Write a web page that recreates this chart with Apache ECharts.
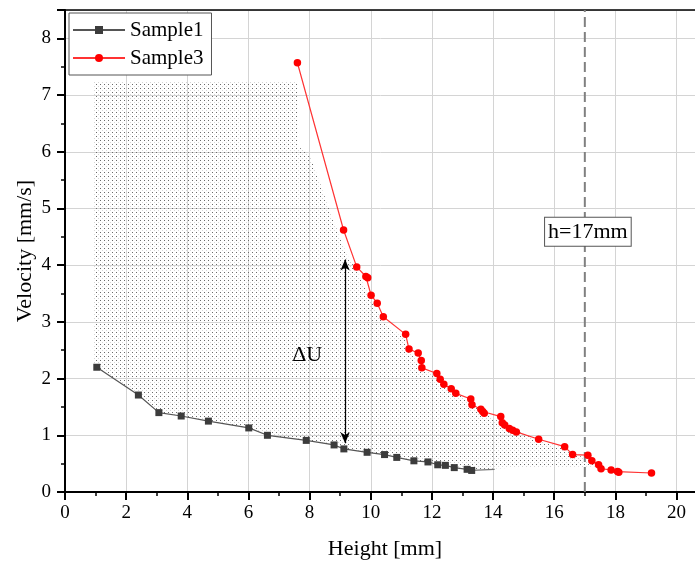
<!DOCTYPE html>
<html><head><meta charset="utf-8">
<script src="https://cdn.jsdelivr.net/npm/echarts/dist/echarts.min.js"></script>
<style>html,body{margin:0;padding:0;background:#fff}#c{width:695px;height:561px}</style>
</head><body><div id="c"></div>
<script>
// ---- data ----
const sample1X = [1.04, 2.40, 3.07, 3.80, 4.69, 6.01, 6.62, 7.89, 8.80, 9.12, 9.88, 10.45, 10.85, 11.41, 11.87, 12.19, 12.44, 12.73, 13.15, 13.30];
const sample1Y = [2.20, 1.71, 1.40, 1.34, 1.25, 1.13, 1.00, 0.91, 0.83, 0.76, 0.70, 0.66, 0.61, 0.55, 0.53, 0.48, 0.47, 0.43, 0.40, 0.38];
const sample1TailX = [13.30, 14.05];
const sample1TailY = [0.38, 0.40];
const sample3X = [7.60, 9.11, 9.54, 9.84, 9.90, 10.01, 10.21, 10.41, 11.14, 11.25, 11.55, 11.65, 11.67, 12.16, 12.27, 12.39, 12.63, 12.78, 13.27, 13.31, 13.60, 13.66, 13.71, 14.25, 14.30, 14.38, 14.53, 14.64, 14.76, 15.49, 16.34, 16.60, 17.10, 17.23, 17.45, 17.53, 17.86, 18.07, 18.11, 19.18];
const sample3Y = [7.57, 4.62, 3.97, 3.80, 3.78, 3.47, 3.33, 3.09, 2.78, 2.52, 2.45, 2.32, 2.19, 2.09, 1.99, 1.90, 1.82, 1.74, 1.64, 1.54, 1.46, 1.42, 1.39, 1.33, 1.22, 1.18, 1.12, 1.09, 1.06, 0.93, 0.80, 0.66, 0.65, 0.55, 0.48, 0.41, 0.39, 0.36, 0.35, 0.335];
const shadeX = [0.95, 7.6, 7.6, 8.0, 8.4, 8.7, 9.05, 9.2, 9.54, 10.0, 10.4, 11.1, 11.6, 12.2, 13.3, 14.3, 15.5, 16.3, 16.6, 17.1, 17.4, 17.4, 14.05, 13.30, 13.15, 12.73, 12.44, 12.19, 11.87, 11.41, 10.85, 10.45, 9.88, 9.12, 8.80, 7.89, 6.62, 6.01, 4.69, 3.80, 3.07, 2.40, 1.04, 0.95];
const shadeY = [7.25, 7.25, 6.1, 5.95, 5.35, 4.9, 4.4, 4.2, 3.9, 3.4, 3.0, 2.7, 2.2, 2.0, 1.55, 1.2, 0.9, 0.78, 0.64, 0.62, 0.47, 0.45, 0.42, 0.38, 0.40, 0.43, 0.47, 0.48, 0.53, 0.55, 0.61, 0.66, 0.70, 0.76, 0.83, 0.91, 1.00, 1.13, 1.25, 1.34, 1.40, 1.71, 2.20, 2.20];
const markerLineX = [17, 17];
const markerLineY = [0, 8.5];
const arrowX = 9.16, arrowTop = 4.1, arrowBottom = 0.86;
const deltaLabel = {text: 'ΔU', x: 7.92, y: 2.42};
const hLabel = {text: 'h=17mm', x: 17.1, y: 4.59};
const xTicks = [0, 2, 4, 6, 8, 10, 12, 14, 16, 18, 20];
const yTicks = [0, 1, 2, 3, 4, 5, 6, 7, 8];

// ---- chart ----
const pair = (xs, ys) => xs.map((x, i) => [x, ys[i]]);
const FONT = "'Liberation Serif', 'Times New Roman', serif";
const pc = document.createElement('canvas');
pc.width = 4; pc.height = 4;
const pctx = pc.getContext('2d');
pctx.fillStyle = '#6a6a6a'; pctx.fillRect(0, 0, 1, 1);
pctx.fillStyle = '#d6d6d6'; pctx.fillRect(2, 2, 1, 1);
const pattern = {image: pc, repeat: 'repeat'};

const chart = echarts.init(document.getElementById('c'), null, {renderer: 'canvas'});
const onTick = (ticks) => (v) => ticks.some(t => Math.abs(t - v) < 1e-6) ? String(v) : '';

chart.setOption({
  animation: false,
  backgroundColor: '#fff',
  grid: {left: 65, top: 10, width: 640, bottom: 69, show: false, outerBoundsMode: 'none', containLabel: false},
  legend: {
    data: ['Sample1', 'Sample3'], orient: 'vertical', left: 69, top: 13,
    itemWidth: 52, itemHeight: 10, itemGap: 2, padding: [4, 8, 4, 3],
    borderColor: '#555', borderWidth: 1, backgroundColor: '#fff',
    textStyle: {fontFamily: FONT, fontSize: 21, color: '#000', lineHeight: 26}
  },
  xAxis: [{
    type: 'value', min: 0, max: 20.93, interval: 2,
    name: 'Height [mm]', nameLocation: 'middle', nameGap: 46, nameMoveOverlap: false,
    nameTextStyle: {fontFamily: FONT, fontSize: 22, color: '#000'},
    axisLine: {show: true, lineStyle: {color: '#000', width: 2}},
    axisTick: {show: true, length: 8, lineStyle: {color: '#000', width: 2}},
    minorTick: {show: true, splitNumber: 2, length: 4, lineStyle: {color: '#000', width: 1.5}},
    axisLabel: {fontFamily: FONT, fontSize: 19, color: '#000', margin: 12, formatter: onTick(xTicks)},
    splitLine: {show: true, lineStyle: {color: '#d4d4d4', width: 1}}
  }, {
    type: 'value', position: 'top', min: 0, max: 20.93,
    axisLine: {show: true, onZero: false, lineStyle: {color: '#000', width: 1.5}},
    axisTick: {show: false}, axisLabel: {show: false}, splitLine: {show: false}
  }],
  yAxis: {
    type: 'value', min: 0, max: 8.5, interval: 1,
    name: 'Velocity [mm/s]', nameLocation: 'middle', nameGap: 29, nameMoveOverlap: false,
    nameTextStyle: {fontFamily: FONT, fontSize: 22, color: '#000'},
    axisLine: {show: true, lineStyle: {color: '#000', width: 2}},
    axisTick: {show: true, length: 8, lineStyle: {color: '#000', width: 2}},
    minorTick: {show: true, splitNumber: 2, length: 4, lineStyle: {color: '#000', width: 1.5}},
    axisLabel: {fontFamily: FONT, fontSize: 19, color: '#000', margin: 14, formatter: onTick(yTicks)},
    splitLine: {show: true, lineStyle: {color: '#d4d4d4', width: 1}}
  },
  series: [
    {
      type: 'custom', name: 'shade', silent: true, z: 1,
      data: [[0, 0]],
      renderItem: (params, api) => ({
        type: 'polygon',
        shape: {points: shadeX.map((x, i) => api.coord([x, shadeY[i]]))},
        style: {fill: pattern, stroke: null}
      })
    },
    {
      type: 'line', name: 'h17', data: pair(markerLineX, markerLineY), symbol: 'none', z: 2, silent: true,
      lineStyle: {color: '#808080', width: 2, type: [10, 5]},
      markPoint: {
        symbol: 'circle', symbolSize: 1, itemStyle: {color: 'rgba(0,0,0,0)'},
        label: {show: true, position: 'inside', fontFamily: FONT, fontSize: 22, color: '#000',
          backgroundColor: '#fff', borderColor: '#555', borderWidth: 1, padding: [4, 3, 2, 3],
          formatter: (p) => p.name},
        data: [{name: hLabel.text, coord: [hLabel.x, hLabel.y]}]
      }
    },
    {
      type: 'line', name: 'annot', data: [], z: 3, silent: true,
      markLine: {
        symbol: ['arrow', 'arrow'], symbolSize: [7, 11], silent: true,
        lineStyle: {color: '#000', width: 1.2, type: 'solid'}, label: {show: false},
        data: [[{coord: [arrowX, arrowTop]}, {coord: [arrowX, arrowBottom]}]]
      },
      markPoint: {
        symbol: 'circle', symbolSize: 1, itemStyle: {color: 'rgba(0,0,0,0)'},
        label: {show: true, position: 'inside', fontFamily: FONT, fontSize: 22, color: '#000', formatter: (p) => p.name},
        data: [{name: deltaLabel.text, coord: [deltaLabel.x, deltaLabel.y]}]
      }
    },
    {
      type: 'line', name: 'tail', data: pair(sample1TailX, sample1TailY), symbol: 'none', z: 4, silent: true,
      lineStyle: {color: '#777', width: 1.2}
    },
    {
      type: 'line', name: 'Sample1', data: pair(sample1X, sample1Y), z: 5,
      symbol: 'rect', symbolSize: 7,
      itemStyle: {color: '#3c3c3c'},
      lineStyle: {color: '#555', width: 1.2}
    },
    {
      type: 'line', name: 'Sample3', data: pair(sample3X, sample3Y), z: 6,
      symbol: 'circle', symbolSize: 7.5,
      itemStyle: {color: '#ff0000'},
      lineStyle: {color: '#ff3333', width: 1.2}
    }
  ]
});
</script>
</body></html>
